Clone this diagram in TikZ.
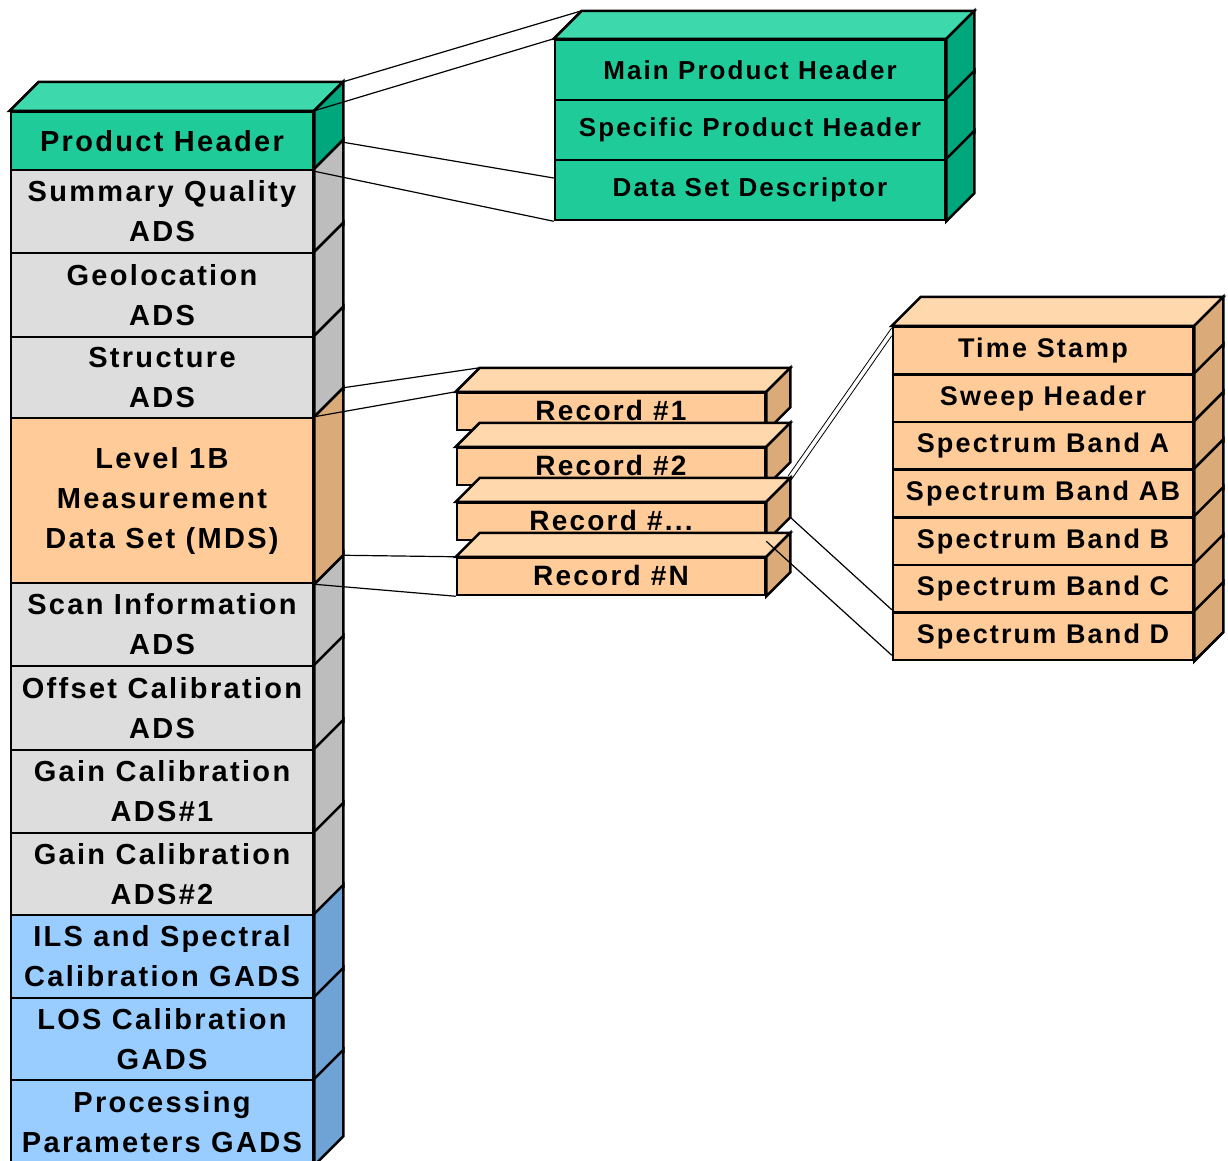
\documentclass[tikz,border=0pt]{standalone}
\usepackage{fontspec}
\setmainfont{Liberation Sans}[LetterSpace=8]
\usetikzlibrary{calc}
\definecolor{gF}{HTML}{1FCC99}
\definecolor{gT}{HTML}{3DD9AD}
\definecolor{gS}{HTML}{00A67C}
\definecolor{yF}{HTML}{DDDDDD}
\definecolor{yS}{HTML}{BDBDBD}
\definecolor{pF}{HTML}{FFCC99}
\definecolor{pT}{HTML}{FFD8AE}
\definecolor{pS}{HTML}{DAAA78}
\definecolor{bF}{HTML}{99CCFF}
\definecolor{bS}{HTML}{6FA3D6}
\newcommand\sideF[3]{\draw[edge,fill=#3] (#1.north east) -- ++(#2,-#2) -- ([shift={(#2,-#2)}]#1.south east) -- (#1.south east) -- cycle;}
\newcommand\topF[3]{\draw[edge,fill=#3] (#1.north west) -- ++(#2,-#2) -- ([shift={(#2,-#2)}]#1.north east) -- (#1.north east) -- cycle;}
\begin{document}
\begin{tikzpicture}[x=1pt,y=-1pt,
  edge/.style={draw=black,line width=2.5pt,line join=miter},
  box/.style={edge, inner sep=0pt, align=center, text=black},
  lrow/.style={box, minimum width=302pt, font=\fontsize{29}{40}\selectfont\bfseries},
  gbox/.style={box, fill=gF, minimum width=390pt, minimum height=60pt, font=\fontsize{26}{30}\selectfont\bfseries},
  rec/.style={box, fill=pF, minimum width=308pt, minimum height=37pt, text depth=3pt, font=\fontsize{28}{30}\selectfont\bfseries},
  srow/.style={box, fill=pF, minimum width=300pt, minimum height=47.57pt, font=\fontsize{27}{30}\selectfont\bfseries},
  conn/.style={draw=black, line width=1.2pt}]
\clip (0,0) rectangle (1228,1160);
\fill[white] (0,0) rectangle (1228,1160);

% ---- left column ----
\node[lrow, fill=gF, minimum height=58pt] (ph) at (162,141) {Product Header};
\node[lrow, fill=yF, minimum height=83pt] (sq) at (162,211.5) {Summary Quality\\ADS};
\node[lrow, fill=yF, minimum height=84pt] (geo) at (162,295) {Geolocation\\ADS};
\node[lrow, fill=yF, minimum height=81pt] (st) at (162,377.5) {Structure\\ADS};
\node[lrow, fill=pF, minimum height=165pt] (l1b) at (162,500.5) {Level 1B\\Measurement\\Data Set (MDS)};
\node[lrow, fill=yF, minimum height=83pt] (scan) at (162,624.5) {Scan Information\\ADS};
\node[lrow, fill=yF, minimum height=84pt] (off) at (162,708) {Offset Calibration\\ADS};
\node[lrow, fill=yF, minimum height=83pt] (g1) at (162,791.5) {Gain Calibration\\ADS\#1};
\node[lrow, fill=yF, minimum height=82pt] (g2) at (162,874) {Gain Calibration\\ADS\#2};
\node[lrow, fill=bF, minimum height=83pt] (ils) at (162,956.5) {ILS and Spectral\\Calibration GADS};
\node[lrow, fill=bF, minimum height=82pt] (los) at (162,1039) {LOS Calibration\\GADS};
\node[lrow, fill=bF, minimum height=84pt] (proc) at (162,1122) {Processing\\Parameters GADS};
\topF{ph}{29}{gT}
\sideF{ph}{29}{gS}
\foreach \n in {sq,geo,st,scan,off,g1,g2}{\sideF{\n}{29}{yS}}
\sideF{l1b}{29}{pS}
\foreach \n in {ils,los,proc}{\sideF{\n}{29}{bS}}

% ---- green header stack ----
\node[gbox] (mph) at (750,70) {Main Product Header};
\node[gbox] (sph) at (750,130) {Specific Product Header};
\node[gbox] (dsd) at (750,190) {Data Set Descriptor};
\topF{mph}{28}{gT}
\foreach \n in {mph,sph,dsd}{\sideF{\n}{28}{gS}}

% ---- records ----
\node[rec] (r1) at (611,411.5) {Record \#1};
\topF{r1}{24}{pT}\sideF{r1}{24}{pS}
\node[rec] (r2) at (611,466.5) {Record \#2};
\topF{r2}{24}{pT}\sideF{r2}{24}{pS}
\node[rec] (r3) at (611,521.5) {Record \#...};
\topF{r3}{24}{pT}\sideF{r3}{24}{pS}
\node[rec] (rN) at (611,576.5) {Record \#N};
\topF{rN}{24}{pT}\sideF{rN}{24}{pS}

% ---- record content stack ----
\node[srow] (ts) at (1043,350.8) {Time Stamp};
\node[srow] (sh) at (1043,398.4) {Sweep Header};
\node[srow] (sba) at (1043,446.0) {Spectrum Band A};
\node[srow] (sbab) at (1043,493.5) {Spectrum Band AB};
\node[srow] (sbb) at (1043,541.1) {Spectrum Band B};
\node[srow] (sbc) at (1043,588.7) {Spectrum Band C};
\node[srow] (sbd) at (1043,636.2) {Spectrum Band D};
\topF{ts}{29}{pT}
\foreach \n in {ts,sh,sba,sbab,sbb,sbc,sbd}{\sideF{\n}{29}{pS}}

% ---- connectors ----
\draw[conn] ([shift={(29,-29)}]ph.north east) -- ([shift={(28,-28)}]mph.north west);
\draw[conn] (ph.north east) -- (mph.north west);
\draw[conn] ([shift={(29,-29)}]ph.south east) -- ([shift={(0,-12)}]dsd.west);
\draw[conn] (ph.south east) -- (dsd.south west);

\draw[conn] ([shift={(29,-29)}]l1b.north east) -- ([shift={(24,-24)}]r1.north west);
\draw[conn] (l1b.north east) -- (r1.north west);
\draw[conn] ([shift={(29,-29)}]l1b.south east) -- (rN.north west);
\draw[conn] (l1b.south east) -- (rN.south west);

\draw[conn, line width=0.8pt] ([shift={(22,-26)}]r3.north east) -- ([shift={(0,2)}]ts.north west);
\draw[conn, line width=0.8pt] ([shift={(25,-22)}]r3.north east) -- ([shift={(0,10)}]ts.north west);
\draw[conn] ([shift={(24,-24)}]r3.south east) -- ([shift={(0,-4)}]sbc.south west);
\draw[conn] (r3.south east) -- ([shift={(0,-6)}]sbd.south west);
\end{tikzpicture}
\end{document}
